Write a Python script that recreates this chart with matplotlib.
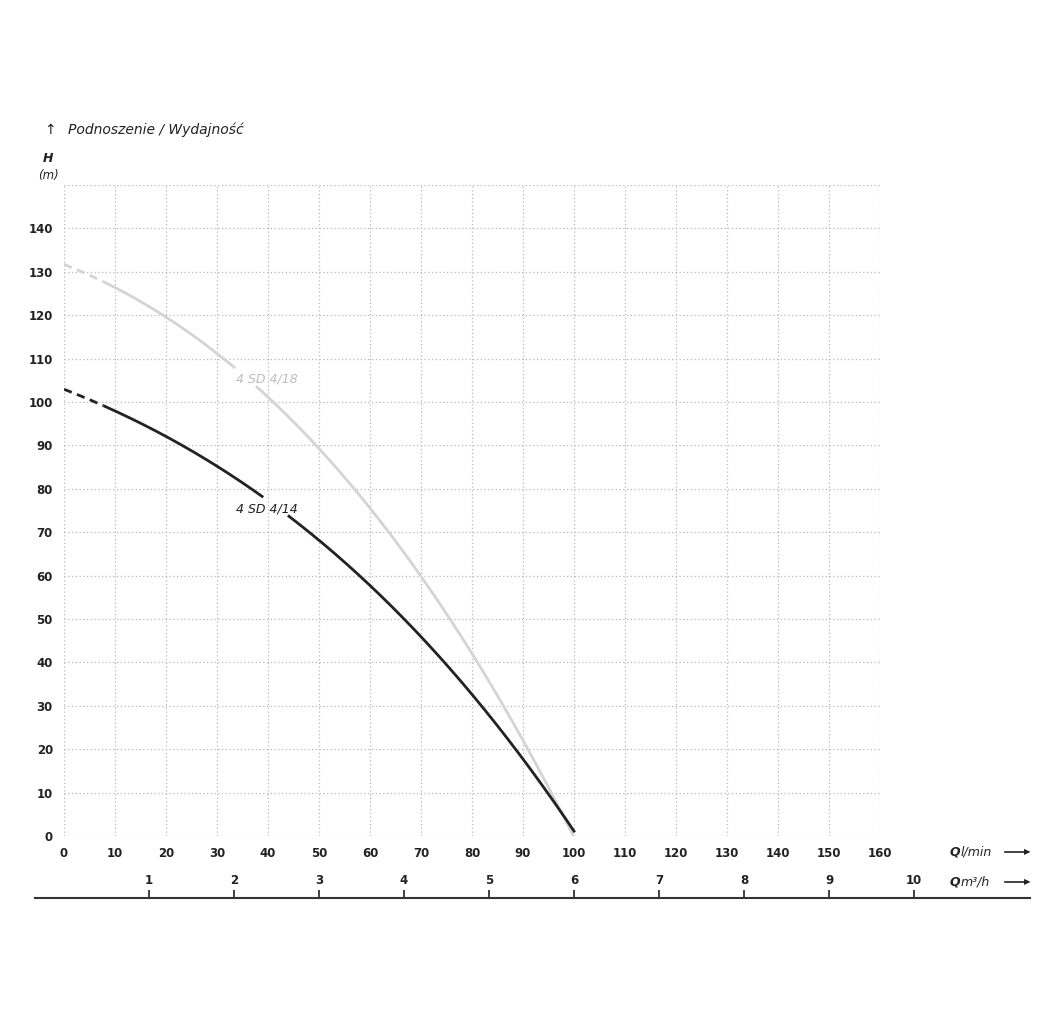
import matplotlib.pyplot as plt
import numpy as np
from matplotlib.lines import Line2D

# Flow (l/min) and head (m)
q_414 = [0, 8, 10, 20, 30, 40, 50, 60, 70, 80, 90, 100]
h_414 = [102.5, 99.2, 98, 92.5, 85.5, 77.5, 67.5, 57, 45.5, 33, 19.5, 0]
q_418 = [0, 8, 10, 20, 30, 40, 50, 60, 70, 80, 85, 90, 95, 100]
h_418 = [131, 128, 127, 120, 110.5, 100.5, 89.5, 75.5, 60, 43, 32, 21.5, 11, 0]

x_ticks = list(range(0, 170, 10))
y_ticks = list(range(0, 150, 10))
m3h_ticks = list(range(1, 11))

W, H = 1042, 1025
fig = plt.figure(figsize=(W / 100, H / 100), dpi=100)
ax = fig.add_axes([64 / W, 1 - 836 / H, (880 - 64) / W, (836 - 185) / H])

ax.set_xlim(0, 160)
ax.set_ylim(0, 150)
for s in ax.spines.values():
    s.set_visible(False)
for v in x_ticks:
    ax.axvline(v, color='#b8b8b8', lw=0.9, ls=(0, (1, 2)), zorder=0)
for v in list(range(0, 160, 10)):
    ax.axhline(v, color='#b8b8b8', lw=0.9, ls=(0, (1, 2)), zorder=0)
ax.set_xticks(x_ticks)
ax.set_yticks(y_ticks)
ax.tick_params(length=0, labelsize=8.5, pad=8)
for lbl in ax.get_xticklabels() + ax.get_yticklabels():
    lbl.set_fontweight('bold')
    lbl.set_color('#222222')


def smooth(q, h):
    qs = np.linspace(q[0], q[-1], 400)
    c = np.polyfit(q, h, 3)
    return qs, np.polyval(c, qs)


def draw_curve(q, h, color, lw, gap):
    qs, hs = smooth(q, h)
    dash = qs <= 8
    ax.plot(qs[dash], hs[dash], color=color, lw=lw, ls=(0, (3, 2)))
    solid = qs >= 8
    qq, hh = qs[solid].copy(), hs[solid].copy()
    hh[(qq > gap[0]) & (qq < gap[1])] = np.nan
    ax.plot(qq, hh, color=color, lw=lw)


draw_curve(q_418, h_418, '#d4d4d4', 2.0, (33.5, 37.8))
draw_curve(q_414, h_414, '#222222', 2.0, (39, 44))

ax.text(33.7, 104.5, '4 SD 4/18', color='#bdbdbd', fontsize=9, style='italic')
ax.text(33.7, 74.5, '4 SD 4/14', color='#222222', fontsize=9, style='italic')

# Secondary m3/h scale drawn as its own axis
left_px, right_px = 35, 1030
scale = 5.1 * 1000 / 60
ax2 = fig.add_axes([left_px / W, 1 - 898 / H, (right_px - left_px) / W, 0.001])
ax2.set_xlim((left_px - 64) / scale, (right_px - 64) / scale)
ax2.set_ylim(0, 1)
for k in ['top', 'left', 'right']:
    ax2.spines[k].set_visible(False)
ax2.spines['bottom'].set_color('#333333')
ax2.spines['bottom'].set_linewidth(1.5)
ax2.set_yticks([])
ax2.set_xticks(m3h_ticks)
ax2.tick_params(axis='x', direction='in', length=6, width=1.3, color='#333333',
                labelsize=8.5, pad=-17, labeltop=False)
for lbl in ax2.get_xticklabels():
    lbl.set_fontweight('bold')
    lbl.set_color('#222222')

# Axis captions
fig.text(950 / W, 1 - 852 / H, 'Q', fontsize=9, fontweight='bold', style='italic',
         va='center', color='#222222')
fig.text(961 / W, 1 - 852 / H, 'l/min', fontsize=9, style='italic', va='center',
         color='#222222')
fig.text(950 / W, 1 - 882 / H, 'Q', fontsize=9, fontweight='bold', style='italic',
         va='center', color='#222222')
fig.text(961 / W, 1 - 882 / H, 'm³/h', fontsize=9, style='italic', va='center',
         color='#222222')
for yp in (852, 882):
    fig.add_artist(Line2D([1005 / W, 1028 / W], [1 - yp / H, 1 - yp / H],
                          color='#222222', lw=1.2))
    fig.text(1030 / W, 1 - yp / H, '▶', fontsize=6, va='center', ha='right',
             color='#222222')

fig.text(44 / W, 1 - 130 / H, '↑', fontsize=10, va='center', color='#222222')
fig.text(68 / W, 1 - 130 / H, 'Podnoszenie / Wydajność', fontsize=10,
         style='italic', va='center', color='#222222')
fig.text(48 / W, 1 - 158 / H, 'H', fontsize=9, fontweight='bold', style='italic',
         va='center', ha='center', color='#222222')
fig.text(48 / W, 1 - 176 / H, '(m)', fontsize=8.5, style='italic', va='center',
         ha='center', color='#222222')

fig.savefig('out.png', dpi=100, facecolor='white')
